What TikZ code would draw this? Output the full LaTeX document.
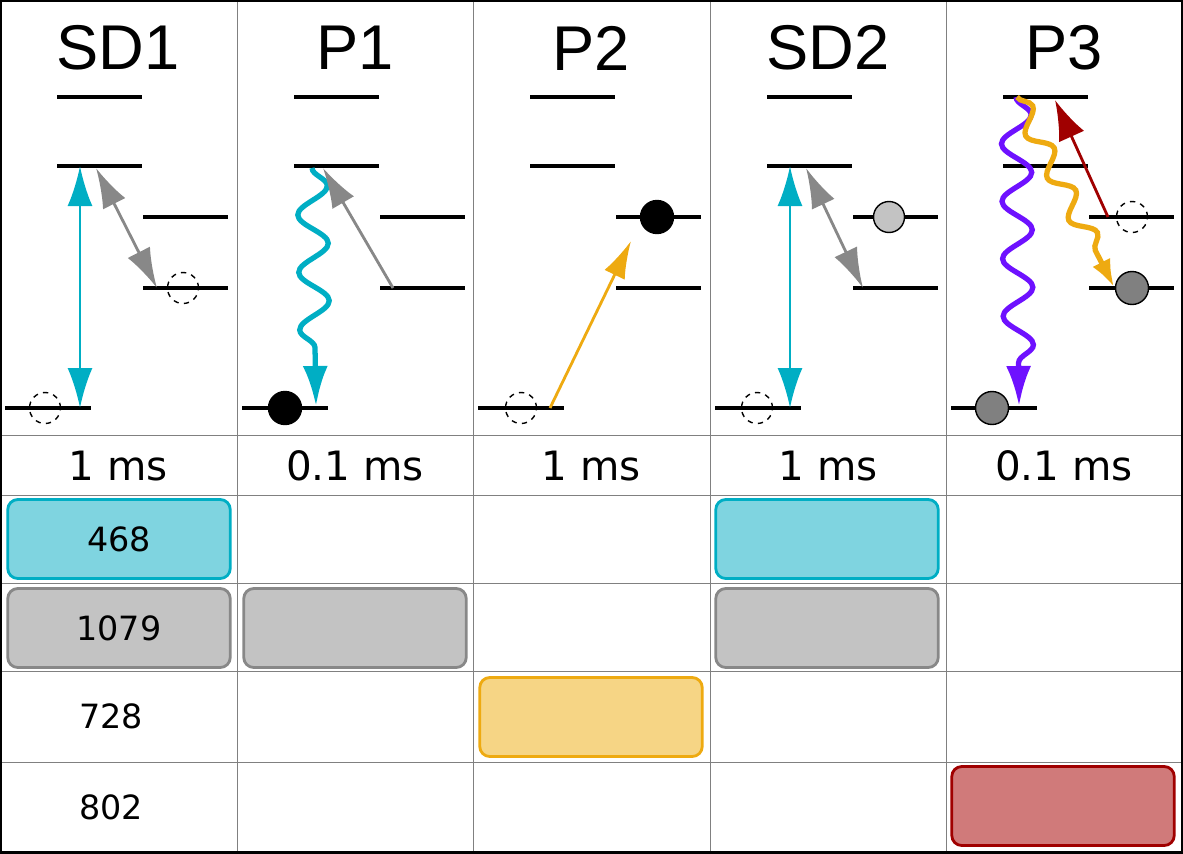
\documentclass[tikz,border=0pt]{standalone}
\usepackage{fontspec}
\setmainfont{DejaVu Sans}
\newfontfamily\titlefont{Liberation Sans}
\usetikzlibrary{arrows.meta,decorations.pathmorphing,calc}
\definecolor{cyanD}{HTML}{00AEC4}
\definecolor{cyanL}{HTML}{7FD4E0}
\definecolor{grayD}{HTML}{888888}
\definecolor{grayL}{HTML}{C3C3C3}
\definecolor{orangeD}{HTML}{EEAA11}
\definecolor{orangeL}{HTML}{F6D585}
\definecolor{redD}{HTML}{A00000}
\definecolor{redL}{HTML}{D07A7A}
\definecolor{violetD}{HTML}{6E11FF}
\newcommand{\levelset}[1]{%
  \begin{scope}[xshift=#1*0.02cm]
    \draw[level] (5,408) -- (91,408);
    \draw[level] (57,97) -- (142,97);
    \draw[level] (57,166) -- (142,166);
    \draw[level] (143,217) -- (228,217);
    \draw[level] (143,288) -- (228,288);
  \end{scope}}
\begin{document}
\begin{tikzpicture}[x=0.02cm, y=-0.02cm,
  level/.style={line width=2.2pt, black},
  grid/.style={draw=gray, line width=0.5pt},
  emptyst/.style={circle, draw, dashed, thick, minimum size=0.62cm, inner sep=0pt},
  fullst/.style={circle, draw, thick, fill=black, minimum size=0.66cm, inner sep=0pt},
  grayst/.style={circle, draw, thick, fill=gray, minimum size=0.66cm, inner sep=0pt},
  lightst/.style={circle, draw, thick, fill=grayL, minimum size=0.62cm, inner sep=0pt},
  bigtip/.style={-{Latex[length=0.8cm,width=0.5cm]}},
  bothtip/.style={{Latex[length=0.8cm,width=0.5cm]}-{Latex[length=0.8cm,width=0.5cm]}},
  wavy/.style={decorate, decoration={snake, segment length=1.15cm, amplitude=0.3cm, post length=0.8cm}},
  pulse/.style={rounded corners=0.2cm, line width=1.6pt, minimum width=4.45cm, minimum height=1.58cm},
  title/.style={font=\titlefont\fontsize{36}{40}\selectfont},
  timelbl/.style={font=\fontsize{23}{26}\selectfont},
  rowlbl/.style={font=\fontsize{19}{22}\selectfont},
]
\useasboundingbox (0,0) rectangle (1183,853);
% grid
\foreach \x in {237,473,710,946} \draw[grid] (\x,0) -- (\x,853);
\foreach \y in {435,495,583,671,762} \draw[grid] (0,\y) -- (1183,\y);
\draw[line width=1.5pt] (0.8,0.8) rectangle (1182.2,852.2);
% titles and times
\foreach \c/\t/\d [count=\i] in {0/SD1/1 ms,237/P1/0.1 ms,473/P2/1 ms,710/SD2/1 ms,946/P3/0.1 ms}{
  \node[title] (title\i) at (\c+118,48) {\t};
  \node[timelbl] (time\i) at (\c+118,466) {\d};
  \levelset{\c}
}
% states
\node[emptyst] (sdA) at (45,408) {};
\node[emptyst] (sdB) at (183,288) {};
\node[fullst] (pA) at (285,408) {};
\node[emptyst] (pB) at (521,408) {};
\node[fullst] (pC) at (657,217) {};
\node[emptyst] (sdC) at (757,408) {};
\node[lightst] (sdD) at (889,217) {};
\node[grayst] (pD) at (992,408) {};
\node[grayst] (pE) at (1132,288) {};
\node[emptyst] (pF) at (1132,217) {};
% level points
\coordinate (a1) at (80,408);   \coordinate (a2) at (80,166);
\coordinate (a3) at (96,168);   \coordinate (a4) at (157,288);
\coordinate (b1) at (312,168);  \coordinate (b2) at (316,406);
\coordinate (b3) at (393,288);  \coordinate (b4) at (323,168);
\coordinate (c1) at (550,408);  \coordinate (c2) at (631,241);
\coordinate (d1) at (790,408);  \coordinate (d2) at (790,166);
\coordinate (d3) at (806,168);  \coordinate (d4) at (863,288);
\coordinate (e1) at (1016,97);  \coordinate (e2) at (1019,406);
\coordinate (e3) at (1017,97);  \coordinate (e4) at (1114,287);
\coordinate (e5) at (1108,217); \coordinate (e6) at (1055,100);
% transitions
\draw[bothtip, cyanD, line width=1.6pt] (a1) -- (a2);
\draw[bothtip, grayD, line width=1.6pt] (a3) -- (a4);
\draw[bigtip, cyanD, line width=3pt, wavy] (b1) -- (b2);
\draw[bigtip, grayD, line width=1.6pt] (b3) -- (b4);
\draw[-{Latex[length=0.75cm,width=0.45cm]}, orangeD, line width=1.6pt] (c1) -- (c2);
\draw[bothtip, cyanD, line width=1.6pt] (d1) -- (d2);
\draw[bothtip, grayD, line width=1.6pt] (d3) -- (d4);
\draw[bigtip, violetD, line width=3pt, wavy] (e1) -- (e2);
\draw[-{Latex[length=0.55cm,width=0.4cm]}, orangeD, line width=3pt,
  decorate, decoration={snake, segment length=0.95cm, amplitude=0.2cm, post length=0.55cm}] (e3) -- (e4);
\draw[-{Latex[length=0.8cm,width=0.55cm]}, redD, line width=1.6pt] (e5) -- (e6);
% pulse boxes
\node[pulse, draw=cyanD, fill=cyanL, rowlbl] (cyan1) at (119,539) {468};
\node[pulse, draw=cyanD, fill=cyanL] (cyan4) at (827,539) {};
\node[pulse, draw=grayD, fill=grayL, rowlbl] (gray1) at (119,628) {1079};
\node[pulse, draw=grayD, fill=grayL] (gray2) at (355,628) {};
\node[pulse, draw=grayD, fill=grayL] (gray4) at (827,628) {};
\node[rowlbl] (lbl728) at (111,716) {728};
\node[pulse, draw=orangeD, fill=orangeL] (orange3) at (591,717) {};
\node[rowlbl] (lbl802) at (111,807) {802};
\node[pulse, draw=redD, fill=redL] (red5) at (1063,806) {};
\end{tikzpicture}
\end{document}
